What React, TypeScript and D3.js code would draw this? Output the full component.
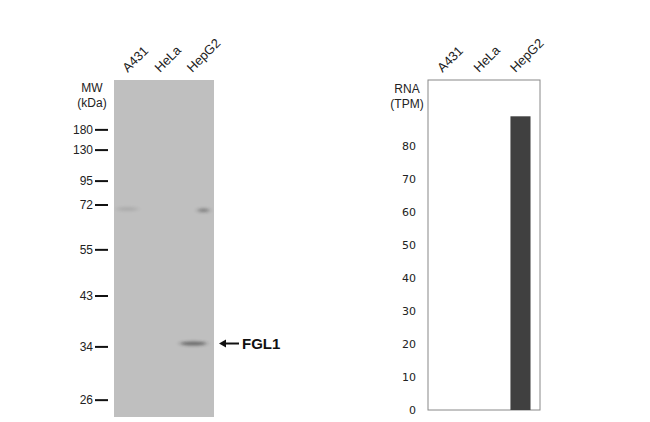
import React from "react";
import * as d3 from "d3";

const lanes = ["A431", "HeLa", "HepG2"];
const mwMarkers = [180, 130, 95, 72, 55, 43, 34, 26];
// relative migration (0 = top of gel, 1 = bottom) read from the blot
const mwMigration = [0.148, 0.208, 0.300, 0.371, 0.504, 0.641, 0.792, 0.950];
const bandLanes = ["A431", "HepG2", "HepG2"];
const bandMW = [70.5, 70, 34.6];
const bandIntensity = [0.12, 0.4, 0.55];
const bandWidthFrac = [0.75, 0.4, 0.9];
const bandOffsetFrac = [-0.15, 0.25, -0.1];
const targetName = "FGL1";
const targetMW = 34.6;
const rnaValues = [0, 0, 89];
const rnaTicks = [0, 10, 20, 30, 40, 50, 60, 70, 80];

export default function App() {
  const W = 650, H = 422;
  // Blot panel
  const bL = 114, bR = 214, bT = 80, bB = 417;
  const migY = d3.scaleLinear().domain([0, 1]).range([bT, bB]);
  const mwScale = d3.scaleLinear().domain(mwMarkers).range(mwMigration.map(migY));
  const mwY = (mw: number) => mwScale(mw);
  const laneX = d3.scaleBand().domain(lanes).range([bL, bR]).padding(0.1);

  // RNA panel
  const rL = 428, rR = 540, rT = 80, rB = 410;
  const rX = d3.scaleBand().domain(lanes).range([rL, rR]).paddingInner(0.45).paddingOuter(0.26);
  const rY = d3.scaleLinear().domain([0, 100]).range([rB, rB - 330]);

  const font = "'Liberation Sans', Arial, sans-serif";

  return (
    <svg width={W} height={H} style={{ position: "absolute", left: 0, top: 0 }}>
      <defs>
        <filter id="blur" x="-50%" y="-300%" width="200%" height="700%">
          <feGaussianBlur stdDeviation="2.5 1.5" />
        </filter>
      </defs>
      <rect width={W} height={H} fill="#fff" />
      {/* Blot */}
      <rect x={bL} y={bT} width={bR - bL} height={bB - bT} fill="#bfbfbf" />
      {bandLanes.map((ln, i) => {
        const bw = laneX.bandwidth() * bandWidthFrac[i];
        const cx = (laneX(ln) as number) + laneX.bandwidth() / 2 + laneX.bandwidth() * bandOffsetFrac[i];
        return (
          <ellipse key={i} cx={cx} cy={mwY(bandMW[i])} rx={bw / 2} ry={2}
            fill="#222" opacity={bandIntensity[i]} filter="url(#blur)" />
        );
      })}
      {lanes.map((ln) => {
        const cx = (laneX(ln) as number) + laneX.bandwidth() / 2;
        return (
          <text key={ln} transform={`translate(${cx - 4},${bT - 7}) rotate(-45)`}
            fontFamily={font} fontSize={13} fill="#222">{ln}</text>
        );
      })}
      <text x={92} y={92} textAnchor="middle" fontFamily={font} fontSize={12} fill="#222">MW</text>
      <text x={92} y={107} textAnchor="middle" fontFamily={font} fontSize={12} fill="#222">(kDa)</text>
      {mwMarkers.map((m) => (
        <g key={m}>
          <text x={93} y={mwY(m) + 4} textAnchor="end" fontFamily={font} fontSize={12} fill="#222">{m}</text>
          <line x1={95} x2={108} y1={mwY(m)} y2={mwY(m)} stroke="#111" strokeWidth={2} />
        </g>
      ))}
      {/* Arrow and target label */}
      <line x1={224} x2={239} y1={mwY(targetMW)} y2={mwY(targetMW)} stroke="#111" strokeWidth={2} />
      <path d={`M219,${mwY(targetMW)} l7,-4 l0,8 z`} fill="#111" />
      <text x={242} y={mwY(targetMW) + 5} fontFamily={font} fontSize={15} fontWeight="bold" fill="#111">{targetName}</text>

      {/* RNA panel */}
      <rect x={rL} y={rT} width={rR - rL} height={rB - rT} fill="#fff" stroke="#888" strokeWidth={1} />
      {lanes.map((ln, i) => (
        <rect key={ln} x={rX(ln)} width={rX.bandwidth()} y={rY(rnaValues[i])}
          height={rB - rY(rnaValues[i])} fill="#404040" />
      ))}
      {lanes.map((ln) => {
        const cx = (rX(ln) as number) + rX.bandwidth() / 2;
        return (
          <text key={ln} transform={`translate(${cx - 5},${rT - 7}) rotate(-45)`}
            fontFamily={font} fontSize={13} fill="#222">{ln}</text>
        );
      })}
      <text x={407} y={93} textAnchor="middle" fontFamily={font} fontSize={12} fill="#222">RNA</text>
      <text x={407} y={108} textAnchor="middle" fontFamily={font} fontSize={12} fill="#222">(TPM)</text>
      {rnaTicks.map((t) => (
        <text key={t} x={416} y={rY(t) + 4} textAnchor="end" fontFamily="'DejaVu Sans', sans-serif"
          fontSize={11} fill="#222">{t}</text>
      ))}
    </svg>
  );
}
